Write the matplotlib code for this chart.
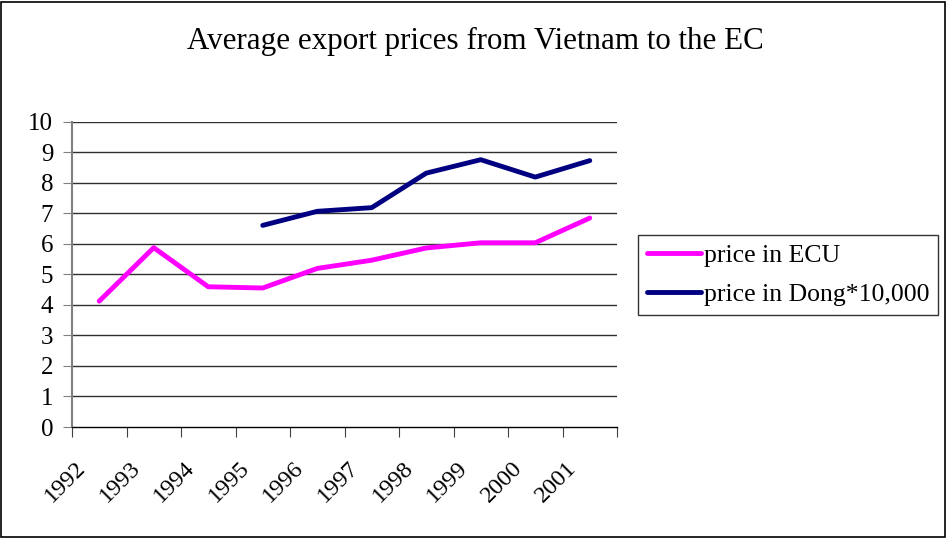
import matplotlib
matplotlib.use("Agg")
import matplotlib.pyplot as plt
from matplotlib.patches import Rectangle

years = ["1992", "1993", "1994", "1995", "1996", "1997", "1998", "1999", "2000", "2001"]
price_ecu = [4.12, 5.87, 4.59, 4.55, 5.19, 5.46, 5.86, 6.03, 6.03, 6.84]
price_dong = [None, None, None, 6.6, 7.06, 7.18, 8.31, 8.75, 8.18, 8.72]
yticks = list(range(0, 11))

plt.rcParams['font.family'] = ['Liberation Serif', 'DejaVu Serif']

W, H = 947, 538
fig = plt.figure(figsize=(W / 100, H / 100), dpi=100)
fig.patch.set_facecolor('white')

# outer border
fig.patches.append(Rectangle((1 / W, 1 / H), (W - 3) / W, (H - 3) / H, transform=fig.transFigure,
                             fill=False, edgecolor='black', linewidth=1.2))

left, right, top, bottom = 72, 617, 121.5, 427
ax = fig.add_axes([left / W, (H - bottom) / H, (right - left) / W, (bottom - top) / H])

x = list(range(len(years)))
dx = [i for i, v in zip(x, price_dong) if v is not None]
dv = [v for v in price_dong if v is not None]
ax.plot(x, price_ecu, color='#FF00FF', lw=3.5, solid_capstyle='round', label='price in ECU', zorder=3)
ax.plot(dx, dv, color='#000080', lw=3.5, solid_capstyle='round', label='price in Dong*10,000', zorder=3)

ax.set_xlim(-0.5, len(years) - 0.5)
ax.set_ylim(0, 10)
ax.set_yticks(yticks)
ax.set_yticklabels([str(t) for t in yticks], fontsize=18)
ax.set_xticks([i - 0.5 for i in range(len(years) + 1)])
ax.set_xticklabels([])
# category labels drawn slightly left of the category centres, as in the original
ax.set_xticks([i - 0.44 for i in x], minor=True)
ax.set_xticklabels(years, minor=True, rotation=45, ha='right', va='top', fontsize=17.5,
                   rotation_mode='anchor')
ax.tick_params(axis='x', which='minor', length=0, pad=22)
ax.tick_params(axis='x', which='major', length=7, color='#404040', direction='out')
ax.tick_params(axis='y', length=6.5, color='#808080', direction='out', pad=7)
for yv in yticks[1:]:
    ax.axhline(yv, color='#303030', lw=1, zorder=1)
for s in ['top', 'right']:
    ax.spines[s].set_visible(False)
ax.spines['left'].set_color('#808080')
ax.spines['left'].set_linewidth(1.5)
ax.spines['bottom'].set_color('black')
ax.spines['bottom'].set_linewidth(1)

fig.text(475 / W, 1 - 41 / H, "Average export prices from Vietnam to the EC", ha='center', va='center', fontsize=22.3)

leg = fig.legend(loc='upper left', bbox_to_anchor=(638 / W, 1 - 235 / H), fontsize=18.5,
                 frameon=True, fancybox=False, edgecolor='black', handlelength=2.1,
                 handletextpad=0.1, borderpad=0.35, borderaxespad=0, labelspacing=0.62,
                 handleheight=0.7)
leg.get_frame().set_linewidth(1)

fig.savefig("out.png", dpi=100, facecolor='white')
